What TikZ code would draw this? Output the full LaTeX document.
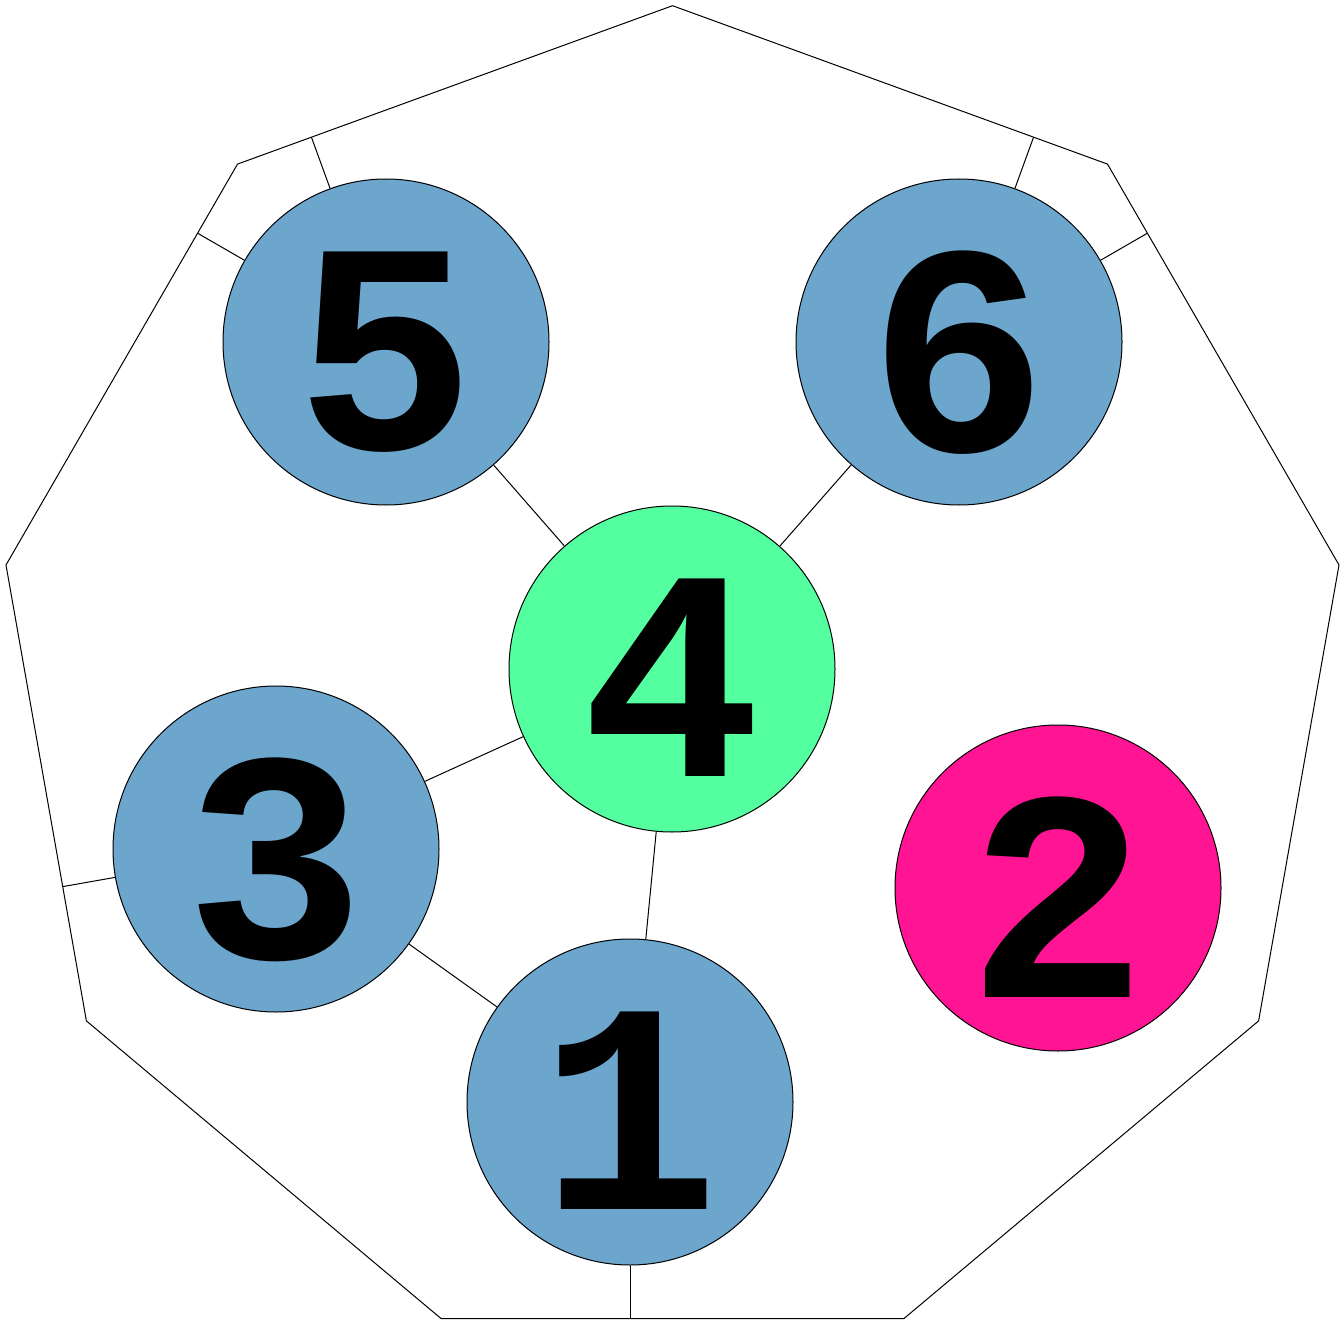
\documentclass[tikz,border=0pt]{standalone}
\usepackage{fontspec}
\newfontfamily\digitfont{Liberation Mono}
\usetikzlibrary{calc}
\definecolor{nodeblue}{RGB}{108,166,205}
\definecolor{nodegreen}{RGB}{84,255,159}
\definecolor{nodepink}{RGB}{255,20,147}
\newcommand{\lowdigit}[1]{\raisebox{-4.5pt}[\height][0pt]{#1}}
\tikzset{
  edge/.style={draw=black, line width=0.5pt},
  vnode/.style={circle, draw=black, line width=0.5pt, minimum size=163pt, inner sep=0pt,
    font=\digitfont\bfseries\fontsize{150}{150}\selectfont, text=black},
}
\begin{document}
\begin{tikzpicture}[x=0.5pt,y=-0.5pt]
\useasboundingbox (0,0) rectangle (1344,1321);
\fill[white] (0,0) rectangle (1344,1321);
% nonagon vertices
\coordinate (v0) at (672.5,5.7);
\coordinate (v1) at (1107.5,164.1);
\coordinate (v2) at (1339.0,565.0);
\coordinate (v3) at (1258.6,1020.9);
\coordinate (v4) at (904.0,1318.5);
\coordinate (v5) at (441.0,1318.5);
\coordinate (v6) at (86.4,1020.9);
\coordinate (v7) at (6.0,565.0);
\coordinate (v8) at (237.5,164.1);
\draw[edge] (v0) -- (v1) -- (v2) -- (v3) -- (v4) -- (v5) -- (v6) -- (v7) -- (v8) -- cycle;
% nodes
\node[vnode, fill=nodeblue] (n5) at (386,342) {\lowdigit{5}};
\node[vnode, fill=nodeblue] (n6) at (959,342) {\lowdigit{6}};
\node[vnode, fill=nodegreen] (n4) at (672,669) {\lowdigit{4}};
\node[vnode, fill=nodeblue] (n3) at (276,849) {\lowdigit{3}};
\node[vnode, fill=nodepink] (n2) at (1058,888) {\lowdigit{2}};
\node[vnode, fill=nodeblue] (n1) at (630,1102) {\lowdigit{1}};
% boundary points (perpendicular feet)
\coordinate (b5a) at ($(v8)!(n5.center)!(v0)$);
\coordinate (b5b) at ($(v7)!(n5.center)!(v8)$);
\coordinate (b6a) at ($(v0)!(n6.center)!(v1)$);
\coordinate (b6b) at ($(v1)!(n6.center)!(v2)$);
\coordinate (b3) at ($(v6)!(n3.center)!(v7)$);
\coordinate (b1) at ($(v4)!(n1.center)!(v5)$);
% connectors
\draw[edge] (n5) -- (n4);
\draw[edge] (n6) -- (n4);
\draw[edge] (n3) -- (n4);
\draw[edge] (n1) -- (n4);
\draw[edge] (n3) -- (n1);
\draw[edge] (n5) -- (b5a);
\draw[edge] (n5) -- (b5b);
\draw[edge] (n6) -- (b6a);
\draw[edge] (n6) -- (b6b);
\draw[edge] (n3) -- (b3);
\draw[edge] (n1) -- (b1);
\end{tikzpicture}
\end{document}
